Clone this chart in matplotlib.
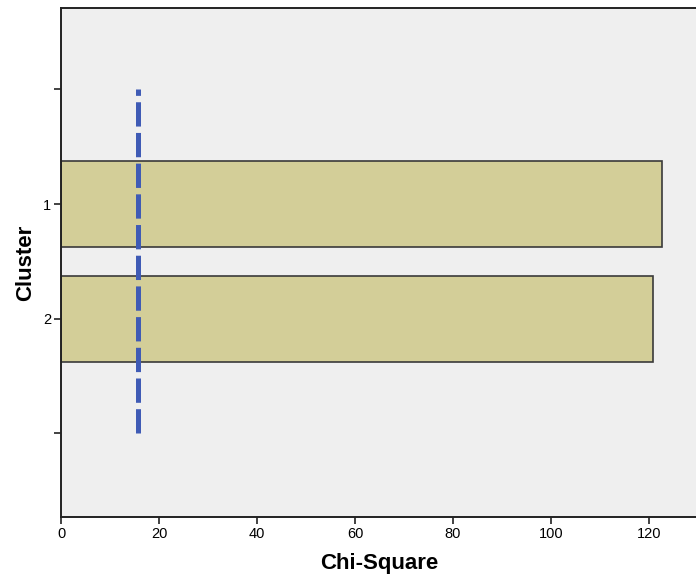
import matplotlib
matplotlib.use("Agg")
import matplotlib.pyplot as plt

# Data
categories = ["", "1", "2", ""]
cluster_labels = ["1", "2"]
chi_square = [122.7, 120.9]
critical_value = 15.7
x_ticks = [0, 20, 40, 60, 80, 100, 120]

plt.rcParams['lines.scale_dashes'] = False

fig = plt.figure(figsize=(6.96, 5.86), dpi=100)
ax = fig.add_axes([61/696, 1 - 517/586, 1 - 61/696 + 0.002, (517 - 8)/586])
ax.set_facecolor('#EFEFEF')

ypos = [1, 2]
ax.barh(ypos, chi_square, height=0.75, color='#D3CE98', edgecolor='#3A3A3A', linewidth=1.2, zorder=2)
ax.plot([critical_value, critical_value], [3, 0], color='#3F5BB5', linewidth=3.6,
        linestyle=(0, (17.5, 4.6)), solid_capstyle='butt', dash_capstyle='butt', zorder=3)

ax.set_xlim(0, 129.9)
ax.set_ylim(3.73, -0.71)
ax.set_yticks([0, 1, 2, 3])
ax.set_yticklabels(categories)
ax.set_xticks(x_ticks)
ax.set_xticklabels([str(t) for t in x_ticks])

tick_font = ['Liberation Sans Narrow', 'Liberation Sans', 'DejaVu Sans']
for lab in ax.get_xticklabels() + ax.get_yticklabels():
    lab.set_family(tick_font)
    lab.set_fontsize(10.5)
ax.tick_params(axis='both', direction='out', length=5, width=1.2, color='#222222', pad=2)

for side in ['left', 'bottom', 'top', 'right']:
    ax.spines[side].set_color('#222222')
    ax.spines[side].set_linewidth(1.4)

ax.set_xlabel('Chi-Square', fontsize=16, fontweight='bold', family=['Liberation Sans', 'DejaVu Sans'], labelpad=9)
ax.set_ylabel('Cluster', fontsize=16, fontweight='bold', family=['Liberation Sans', 'DejaVu Sans'], labelpad=5)

fig.savefig('out.png', dpi=100, facecolor='white')
